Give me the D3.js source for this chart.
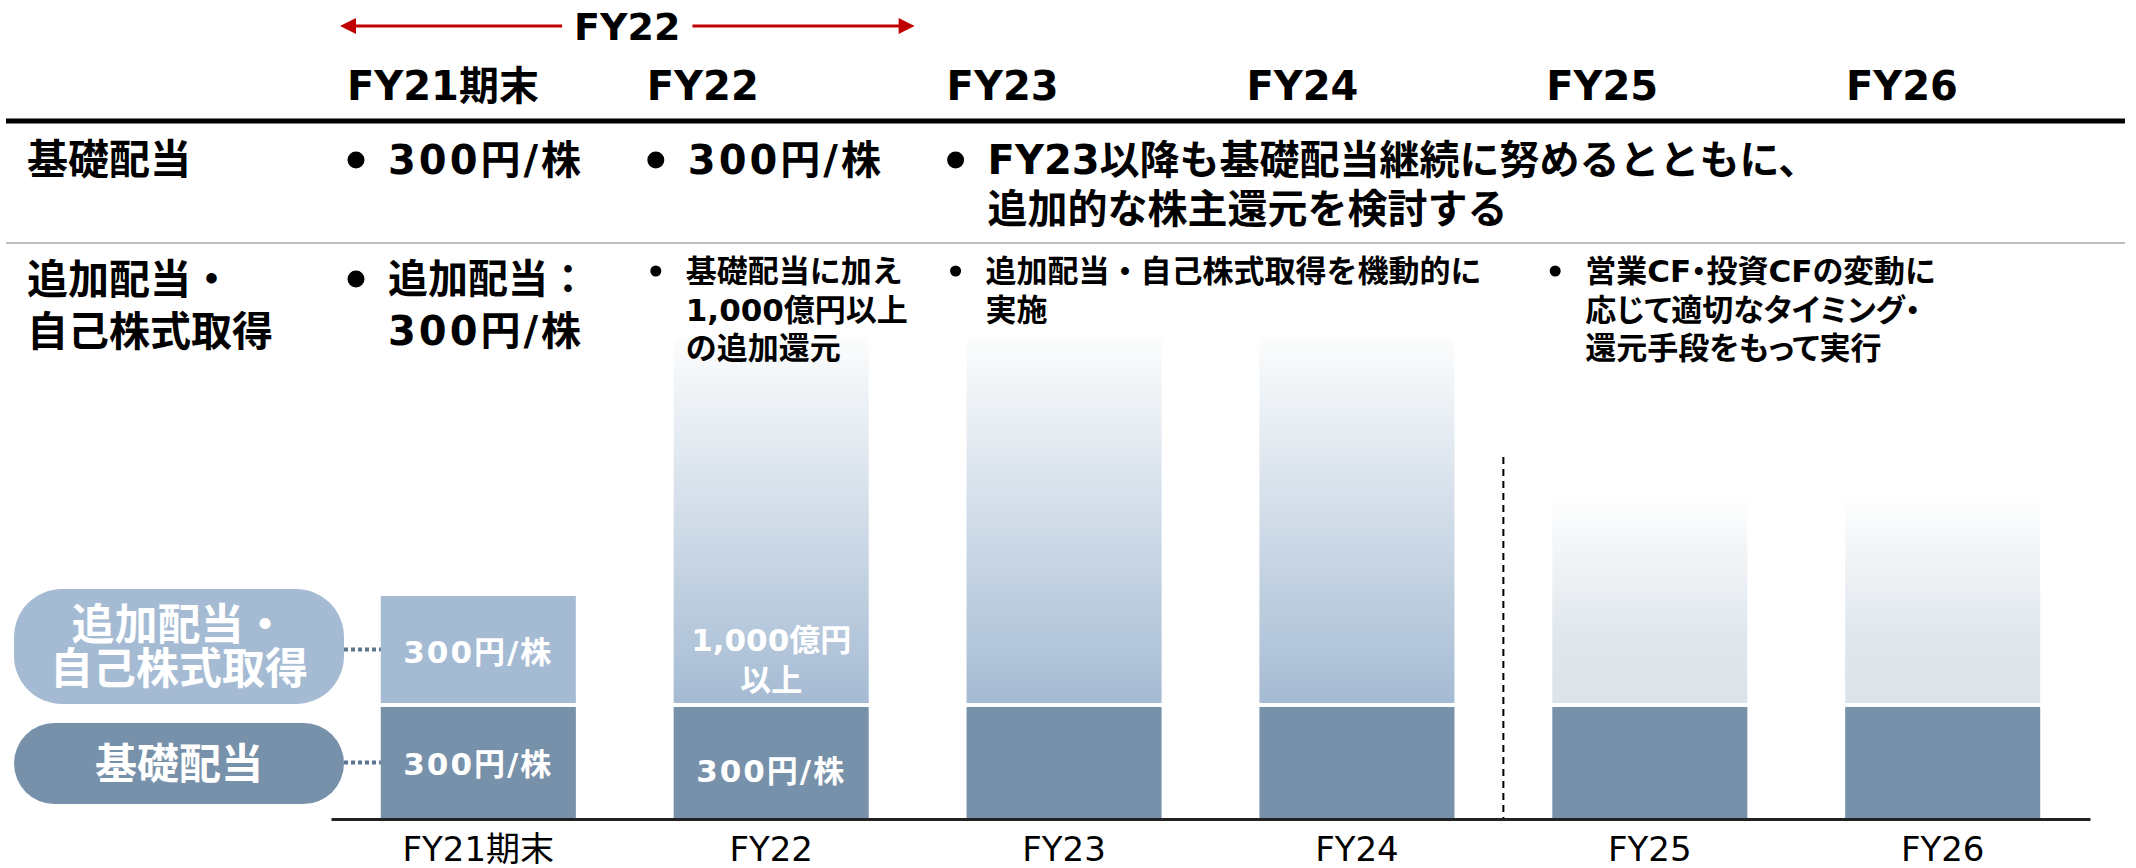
<!DOCTYPE html>
<html>
<head>
<meta charset="utf-8">
<script src="https://cdn.jsdelivr.net/npm/d3@7"></script>
<style>
  html, body { margin: 0; padding: 0; background: #fff; }
  svg { display: block; font-family: 'DejaVu Sans', 'Noto Sans CJK JP', sans-serif; }
  .palt { font-feature-settings: "palt"; }
</style>
</head>
<body>
<script>
const width = 2136;
const height = 868;

// data
const years = ['FY21期末', 'FY22', 'FY23', 'FY24', 'FY25', 'FY26'];
const baseDividend = [300, 300, 300, 300, 300, 300];
const additionalReturn = [300, 1000, 1000, 1000, 580, 580];   // illustrative heights
const additionalKind = ['fixed', 'planned', 'planned', 'planned', 'flexible', 'flexible'];
const baseBarLabels = [['300円/株'], ['300円/株'], [], [], [], []];
const additionalBarLabels = [['300円/株'], ['1,000億円', '以上'], [], [], [], []];

const periodLabel = 'FY22';
const rowLabels = [['基礎配当'], ['追加配当・', '自己株式取得']];
const row1Cells = [
  { col: 'FY21期末', lines: ['300円/株'] },
  { col: 'FY22', lines: ['300円/株'] },
  { col: 'FY23', lines: ['FY23以降も基礎配当継続に努めるとともに、', '追加的な株主還元を検討する'] }
];
const row2Main = [
  { col: 'FY21期末', lines: ['追加配当：', '300円/株'] }
];
const row2Notes = [
  { col: 'FY22', lines: ['基礎配当に加え', '1,000億円以上', 'の追加還元'] },
  { col: 'FY23', lines: ['追加配当・自己株式取得を機動的に', '実施'] },
  { col: 'FY25', lines: ['営業CF・投資CFの変動に', '応じて適切なタイミング・', '還元手段をもって実行'] }
];
const legendItems = [
  { key: 'additional', lines: ['追加配当・', '自己株式取得'] },
  { key: 'base', lines: ['基礎配当'] }
];

const colors = {
  base: '#7891aa',
  additional: '#a5bbd3',
  red: '#c00000'
};

const svg = d3.select('body').append('svg')
  .attr('width', width)
  .attr('height', height);

const defs = svg.append('defs');
const gPlanned = defs.append('linearGradient').attr('id', 'grad-planned')
  .attr('x1', 0).attr('y1', 0).attr('x2', 0).attr('y2', 1);
gPlanned.append('stop').attr('offset', '0%').attr('stop-color', '#fcfdfd');
gPlanned.append('stop').attr('offset', '100%').attr('stop-color', '#a5bbd3');
const gFlex = defs.append('linearGradient').attr('id', 'grad-flexible')
  .attr('x1', 0).attr('y1', 0).attr('x2', 0).attr('y2', 1);
gFlex.append('stop').attr('offset', '0%').attr('stop-color', '#ffffff');
gFlex.append('stop').attr('offset', '70%').attr('stop-color', '#dfe6ec');
gFlex.append('stop').attr('offset', '100%').attr('stop-color', '#dce4eb');

const fillFor = {
  fixed: colors.additional,
  planned: 'url(#grad-planned)',
  flexible: 'url(#grad-flexible)'
};

// layers: chart below, table text on top
const chart = svg.append('g').attr('class', 'chart');
const legend = svg.append('g').attr('class', 'legend');
const table = svg.append('g').attr('class', 'table');
const arrow = svg.append('g').attr('class', 'period');

// helper: multi-line text, y given as glyph centre of first line
function lines(g, arr, x, yc, lh, fs, opts = {}) {
  const t = g.append('text')
    .attr('font-size', fs)
    .attr('font-weight', opts.weight || 'bold')
    .attr('fill', opts.fill || '#000')
    .attr('text-anchor', opts.anchor || 'start');
  if (opts.cls) t.attr('class', opts.cls);
  arr.forEach((s, i) => {
    const ts = t.append('tspan')
      .attr('x', x)
      .attr('y', yc + i * lh + fs * 0.36)
      .text(s);
    // yen-per-share figures are set a little wider in the source
    if (opts.digitSpacing && /^\d+円/.test(s)) ts.attr('letter-spacing', opts.digitSpacing);
  });
  return t;
}

// ---- table part ----
const colX = d3.scalePoint().domain(years).range([347, 1846]);

years.forEach(y => lines(table, [y], colX(y), 86, 0, 40));

table.append('line')
  .attr('x1', 6).attr('x2', 2125).attr('y1', 121).attr('y2', 121)
  .attr('stroke', '#000').attr('stroke-width', 5);
table.append('line')
  .attr('x1', 6).attr('x2', 2125).attr('y1', 243).attr('y2', 243)
  .attr('stroke', '#c0c0c0').attr('stroke-width', 2);

lines(table, rowLabels[0], 27, 159, 0, 41);
lines(table, rowLabels[1], 27, 279, 52, 41);

function bulletCell(cell, yc, lh, fs, r, gap, spacing, cls) {
  const bx = colX(cell.col) + 9;
  table.append('circle').attr('cx', bx).attr('cy', yc).attr('r', r).attr('fill', '#000');
  lines(table, cell.lines, bx + gap, yc, lh, fs, { digitSpacing: spacing, cls });
}
row1Cells.forEach(c => bulletCell(c, 160, 49, 40, 8.5, 32, 3));
row2Main.forEach(c => bulletCell(c, 279, 52, 40, 8.5, 32, 3));
// the FY25 note uses proportional kana in the source
row2Notes.forEach(c => bulletCell(c, 271, 38.5, 31, 5.5, 30, null, c.col === 'FY25' ? 'palt' : null));

// period arrow on top
const ax0 = colX(years[0]) - 7;
const ax1 = colX(years[2]) - 32;
const amid = (ax0 + ax1) / 2;
const pt = lines(arrow, [periodLabel], amid, 26, 0, 38, { anchor: 'middle' });
const half = pt.node().getComputedTextLength() / 2 + 12;
arrow.append('line').attr('x1', ax0 + 10).attr('x2', amid - half).attr('y1', 26).attr('y2', 26)
  .attr('stroke', colors.red).attr('stroke-width', 3);
arrow.append('line').attr('x1', amid + half).attr('x2', ax1 - 10).attr('y1', 26).attr('y2', 26)
  .attr('stroke', colors.red).attr('stroke-width', 3);
arrow.append('path').attr('fill', colors.red)
  .attr('d', `M${ax0},26 L${ax0 + 16},18 L${ax0 + 16},34 Z`);
arrow.append('path').attr('fill', colors.red)
  .attr('d', `M${ax1},26 L${ax1 - 16},18 L${ax1 - 16},34 Z`);

// ---- chart part ----
const x = d3.scaleBand().domain(years).range([331, 2090]).paddingInner(0.334).paddingOuter(0.17);
const yScale = d3.scaleLinear().domain([0, 1300]).range([818, 337]);
const gap = 4;

const data = years.map((year, i) => ({
  year,
  base: baseDividend[i],
  add: additionalReturn[i],
  kind: additionalKind[i],
  baseLabel: baseBarLabels[i],
  addLabel: additionalBarLabels[i]
}));

chart.selectAll('rect.add')
  .data(data)
  .join('rect')
    .attr('class', 'add')
    .attr('x', d => x(d.year))
    .attr('width', x.bandwidth())
    .attr('y', d => yScale(d.base + d.add))
    .attr('height', d => yScale(d.base) - gap - yScale(d.base + d.add))
    .attr('fill', d => fillFor[d.kind]);

chart.selectAll('rect.base')
  .data(data)
  .join('rect')
    .attr('class', 'base')
    .attr('x', d => x(d.year))
    .attr('width', x.bandwidth())
    .attr('y', d => yScale(d.base))
    .attr('height', d => yScale(0) - yScale(d.base))
    .attr('fill', colors.base);

data.forEach((d, i) => {
  const cx = x(d.year) + x.bandwidth() / 2;
  if (d.baseLabel.length) {
    const yc = (yScale(d.base) + yScale(0)) / 2 + (i === 0 ? 1 : 8);
    lines(chart, d.baseLabel, cx, yc, 0, 31, { fill: '#fff', anchor: 'middle', digitSpacing: 2 });
  }
  if (d.addLabel.length) {
    const bottom = yScale(d.base) - gap;
    const n = d.addLabel.length;
    const lh = 40;
    const yc = n === 1
      ? (yScale(d.base + d.add) + bottom) / 2 + 2
      : bottom - 23 - (n - 1) * lh;
    lines(chart, d.addLabel, cx, yc, lh, 31, { fill: '#fff', anchor: 'middle', digitSpacing: 2 });
  }
});

// divider between FY24 and FY25
const divX = (x('FY24') + x.bandwidth() + x('FY25')) / 2;
chart.append('line')
  .attr('x1', divX).attr('x2', divX)
  .attr('y1', 457).attr('y2', yScale(0))
  .attr('stroke', '#000').attr('stroke-width', 2)
  .attr('stroke-dasharray', '7 5');

// baseline axis
const axis = chart.append('g')
  .attr('transform', `translate(0,${yScale(0) + 1})`)
  .call(d3.axisBottom(x).tickSize(0).tickPadding(18));
axis.select('.domain').attr('stroke', '#222').attr('stroke-width', 3);
axis.selectAll('text')
  .attr('font-family', "'DejaVu Sans', 'Noto Sans CJK JP', sans-serif")
  .attr('font-size', 34)
  .attr('fill', '#000');

// legend pills
const pillBoxes = {
  additional: { y0: 589, y1: 704, fill: colors.additional, fs: 43, barY: d => (yScale(d.base + d.add) + yScale(d.base) - gap) / 2 },
  base: { y0: 723, y1: 804, fill: colors.base, fs: 42, barY: d => (yScale(d.base) + yScale(0)) / 2 }
};
const first = data[0];
legendItems.forEach(item => {
  const b = pillBoxes[item.key];
  const h = b.y1 - b.y0;
  const cy = b.barY(first);
  legend.append('line')
    .attr('x1', 344).attr('x2', x(first.year))
    .attr('y1', cy).attr('y2', cy)
    .attr('stroke', '#5c7590').attr('stroke-width', 4)
    .attr('stroke-dasharray', '4 3');
  legend.append('rect')
    .attr('x', 14).attr('y', b.y0)
    .attr('width', 330).attr('height', h)
    .attr('rx', Math.min(48, h / 2))
    .attr('fill', b.fill);
  const lh = 44;
  const top = (b.y0 + b.y1) / 2 - (item.lines.length - 1) * lh / 2;
  lines(legend, item.lines, 179, top, lh, b.fs, { fill: '#fff', anchor: 'middle' });
});
</script>
</body>
</html>
